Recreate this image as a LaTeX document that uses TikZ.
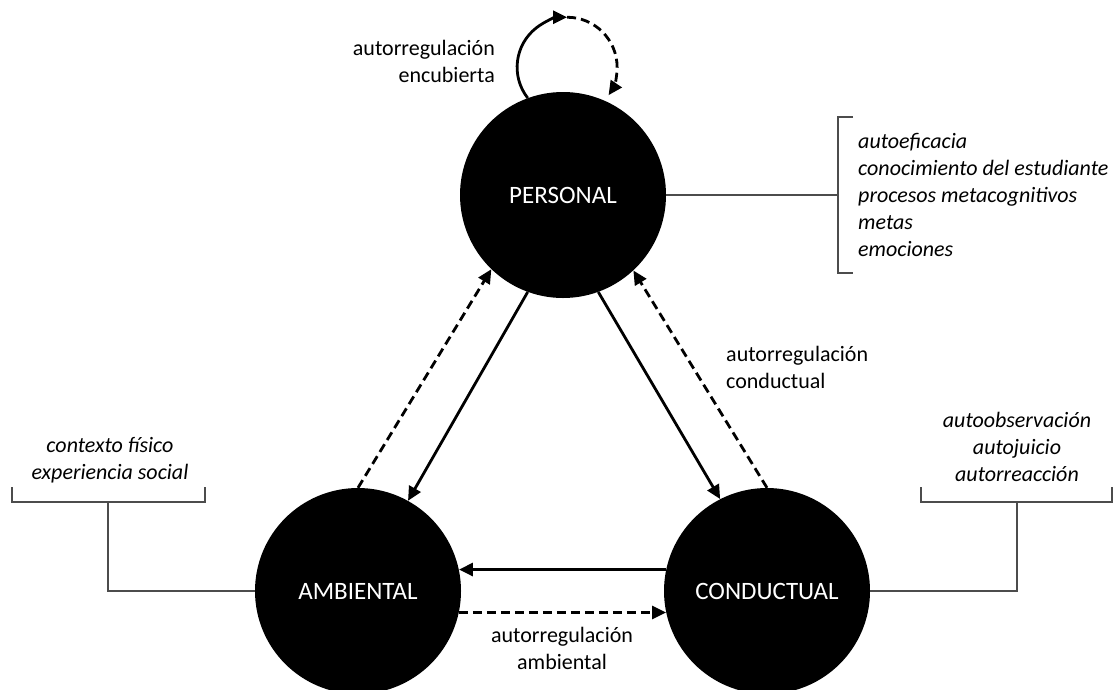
\documentclass[tikz,border=0pt]{standalone}
\usepackage{fontspec}
\setmainfont{Carlito}
\usetikzlibrary{arrows.meta}
\begin{document}
\begin{tikzpicture}[x=1pt,y=1pt,
  factor/.style={circle,fill=black,minimum size=206pt,inner sep=0pt,text=white,font=\fontsize{25}{30}\selectfont},
  lbl/.style={inner sep=0pt,font=\fontsize{22}{27}\selectfont},
  lst/.style={inner sep=0pt,font=\fontsize{22}{27}\selectfont\itshape},
  tip/.style={-{Triangle[length=14pt,width=13pt]}},
  rel/.style={tip,line width=2.8pt},
  reldash/.style={tip,line width=2.8pt,dash pattern=on 9pt off 5pt},
  brace/.style={line width=1.1pt,draw=black!70}]
\useasboundingbox (0,0) rectangle (1115,-689);

% the three factors
\node[factor] (P) at (563,-195) {PERSONAL};
\node[factor] (A) at (358,-591) {AMBIENTAL};
\node[factor] (C) at (767,-591) {CONDUCTUAL};

% reciprocal influences
\draw[rel] (P.250) -- (A.61);
\draw[reldash] (A.90) -- (P.226);
\draw[rel] (P.290) -- (C.117);
\draw[reldash] (C.90) -- (P.313);
\draw[rel] (C.168) -- (A.12);
\draw[reldash] (A.-12) -- (C.192);

% covert self-regulation loop
\draw[rel] (P.110) arc[start angle=218,end angle=90,radius=50pt] coordinate (looptop);
\draw[reldash] (looptop) arc[start angle=90,end angle=-34,radius=50pt];

% relation labels
\node[lbl,align=right,anchor=east] (lenc) at (495,-61) {autorregulación\\encubierta};
\node[lbl,align=left,anchor=west] (lcon) at (726,-367) {autorregulación\\conductual};
\node[lbl,align=center] (lamb) at (562,-648) {autorregulación\\ambiental};

% personal factors list
\node[lst,align=left,anchor=west] (lp) at (858,-195) {autoeficacia\\conocimiento del estudiante\\procesos metacognitivos\\metas\\emociones};
\coordinate (bp) at (838,-195);
\draw[brace] (853,-117) -- (838,-117) -- (838,-273) -- (853,-273);
\draw[brace] (P.east) -- (bp);

% environmental factors list
\node[lst,align=center] (la) at (110,-460) {contexto físico\\experiencia social};
\coordinate (ba) at (108,-502);
\draw[brace] (12,-487) -- (12,-502) -- (205,-502) -- (205,-487);
\draw[brace] (ba) |- (A.west);

% behavioural factors list
\node[lst,align=center] (lc) at (1017,-447) {autoobservación\\autojuicio\\autorreacción};
\coordinate (bc) at (1017,-502);
\draw[brace] (921,-487) -- (921,-502) -- (1112,-502) -- (1112,-487);
\draw[brace] (bc) |- (C.east);
\end{tikzpicture}
\end{document}
